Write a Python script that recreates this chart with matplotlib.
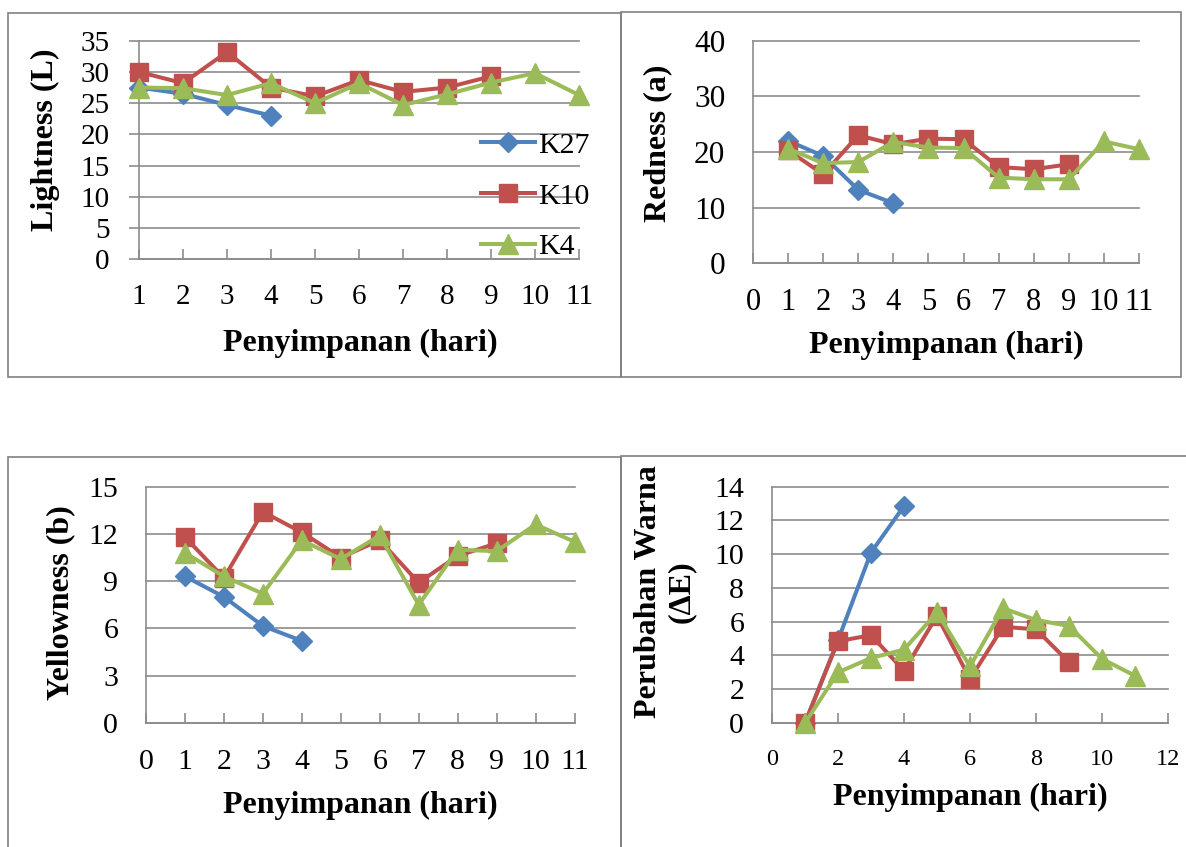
import matplotlib
matplotlib.use("Agg")
import matplotlib.pyplot as plt
from matplotlib.patches import Rectangle

plt.rcParams['font.family'] = ['Liberation Serif', 'DejaVu Serif']

# ---------------- data ----------------
series_names = ["K27", "K10", "K4"]
days_K27 = [1, 2, 3, 4]
days_K10 = [1, 2, 3, 4, 5, 6, 7, 8, 9]
days_K4 = [1, 2, 3, 4, 5, 6, 7, 8, 9, 10, 11]

L_K27 = [27.5, 26.5, 24.7, 23.0]
L_K10 = [30.0, 28.2, 33.2, 27.5, 26.1, 28.7, 26.8, 27.5, 29.3]
L_K4 = [27.5, 27.4, 26.3, 28.2, 25.0, 28.2, 24.7, 26.4, 28.3, 29.8, 26.3]

a_K27 = [22.0, 19.3, 13.2, 10.8]
a_K10 = [20.3, 16.0, 23.0, 21.4, 22.4, 22.3, 17.3, 16.9, 17.8]
a_K4 = [20.6, 18.0, 18.2, 21.8, 20.8, 20.7, 15.4, 15.1, 15.1, 21.9, 20.5]

b_K27 = [9.3, 8.0, 6.15, 5.2]
b_K10 = [11.8, 9.2, 13.4, 12.1, 10.5, 11.6, 8.9, 10.6, 11.4]
b_K4 = [10.8, 9.3, 8.2, 11.6, 10.4, 11.9, 7.5, 11.0, 10.9, 12.6, 11.5]

dE_K27 = [0.0, 4.9, 10.1, 12.85]
dE_K10 = [0.0, 4.85, 5.2, 3.1, 6.35, 2.6, 5.7, 5.55, 3.6]
dE_K4 = [0.0, 3.0, 3.85, 4.35, 6.55, 3.35, 6.8, 6.1, 5.75, 3.8, 2.8]

x_label = "Penyimpanan (hari)"
y_labels = ["Lightness (L)", "Redness (a)", "Yellowness (b)", "Perubahan Warna\n(\u0394E)"]

# ---------------- style ----------------
colors = {"K27": "#4F81BD", "K10": "#C0504D", "K4": "#9BBB59"}
markers = {"K27": ("D", 10.0), "K10": ("s", 13.5), "K4": ("^", 14.0)}
GRID = "#8c8c8c"
LAB_FS = 23
LEG_FS = 21.5

W, H = 1186, 847
fig = plt.figure(figsize=(W / 100, H / 100), dpi=100)


def px_axes(l, r, t, b):
    return fig.add_axes([l / W, 1 - b / H, (r - l) / W, (b - t) / H])


def style(ax, xlim, ylim, xticks, yticks, y_out=False, xfs=21, yfs=21, xpad=19):
    ax.set_xlim(*xlim)
    ax.set_ylim(*ylim)
    ax.set_xticks(xticks)
    ax.set_yticks(yticks)
    for s in ["top", "right"]:
        ax.spines[s].set_visible(False)
    for s in ["left", "bottom"]:
        ax.spines[s].set_color(GRID)
        ax.spines[s].set_linewidth(1.2)
    ax.yaxis.grid(True, color=GRID, linewidth=1.2)
    ax.set_axisbelow(True)
    for gl in ax.get_ygridlines():
        gl.set_clip_on(False)
    ax.tick_params(axis="x", direction="in", length=7, width=1.2, color=GRID,
                   labelsize=xfs, pad=xpad)
    if y_out:
        ax.tick_params(axis="y", direction="out", length=7, width=1.2, color=GRID,
                       labelsize=yfs, pad=14)
    else:
        ax.tick_params(axis="y", length=0, labelsize=yfs, pad=20)


def plot_series(ax, data):
    for name, (xs, ys) in zip(series_names, data):
        m, ms = markers[name]
        ax.plot(xs, ys, color=colors[name], linewidth=2.9, marker=m, markersize=ms,
                markerfacecolor=colors[name], markeredgecolor=colors[name],
                label=name, clip_on=False, zorder=3)


def labels(ax, ytext, xl, yl, linesp=1.2):
    ax.set_xlabel(x_label, fontsize=LAB_FS, fontweight="bold", va="center")
    ax.xaxis.set_label_coords(*xl)
    ax.set_ylabel(ytext, fontsize=LAB_FS, fontweight="bold", va="center",
                  linespacing=linesp)
    ax.yaxis.set_label_coords(*yl)


# Panel 1: Lightness
ax1 = px_axes(139, 579, 40.7, 259.3)
plot_series(ax1, [(days_K27, L_K27), (days_K10, L_K10), (days_K4, L_K4)])
style(ax1, (1, 11), (0, 35), list(range(1, 12)), list(range(0, 36, 5)), y_out=True,
      xfs=21, yfs=21, xpad=18)
labels(ax1, y_labels[0], (0.502, -0.385), (-0.2125, 0.546))
ax1.legend(loc="upper left", bbox_to_anchor=(0.777, 0.583), frameon=False,
           fontsize=LEG_FS, handlelength=1.8, handletextpad=0.12,
           labelspacing=0.8, borderpad=0, borderaxespad=0)

# Panel 2: Redness
ax2 = px_axes(753, 1139, 40.7, 263.3)
plot_series(ax2, [(days_K27, a_K27), (days_K10, a_K10), (days_K4, a_K4)])
style(ax2, (0, 11), (0, 40), list(range(0, 12)), list(range(0, 41, 10)),
      xfs=22, yfs=22.5, xpad=18)
labels(ax2, y_labels[1], (0.5, -0.37), (-0.246, 0.540))

# Panel 3: Yellowness
ax3 = px_axes(146, 574.5, 486.7, 722.7)
plot_series(ax3, [(days_K27, b_K27), (days_K10, b_K10), (days_K4, b_K4)])
style(ax3, (0, 11), (0, 15), list(range(0, 12)), list(range(0, 16, 3)),
      xfs=21.5, yfs=21.5, xpad=19)
labels(ax3, y_labels[2], (0.4995, -0.352), (-0.198, 0.507))

# Panel 4: Delta E
ax4 = px_axes(772, 1168, 486.7, 723)
plot_series(ax4, [(days_K27, dE_K27), (days_K10, dE_K10), (days_K4, dE_K4)])
style(ax4, (0, 12), (0, 14), list(range(0, 13, 2)), list(range(0, 15, 2)),
      xfs=17.5, yfs=21.5, xpad=19)
labels(ax4, y_labels[3], (0.5, -0.317), (-0.27, 0.554), linesp=1.2)

# panel borders
for (l, t, r, b) in [(8, 13, 620.5, 377), (620.5, 12.5, 1181, 377),
                     (8, 457, 620.5, 860), (620.5, 456, 1195, 860)]:
    fig.add_artist(Rectangle((l / W, 1 - b / H), (r - l) / W, (b - t) / H,
                             transform=fig.transFigure, fill=False,
                             edgecolor="#808080", linewidth=1.2, clip_on=False))

fig.savefig("out.png", dpi=100)
